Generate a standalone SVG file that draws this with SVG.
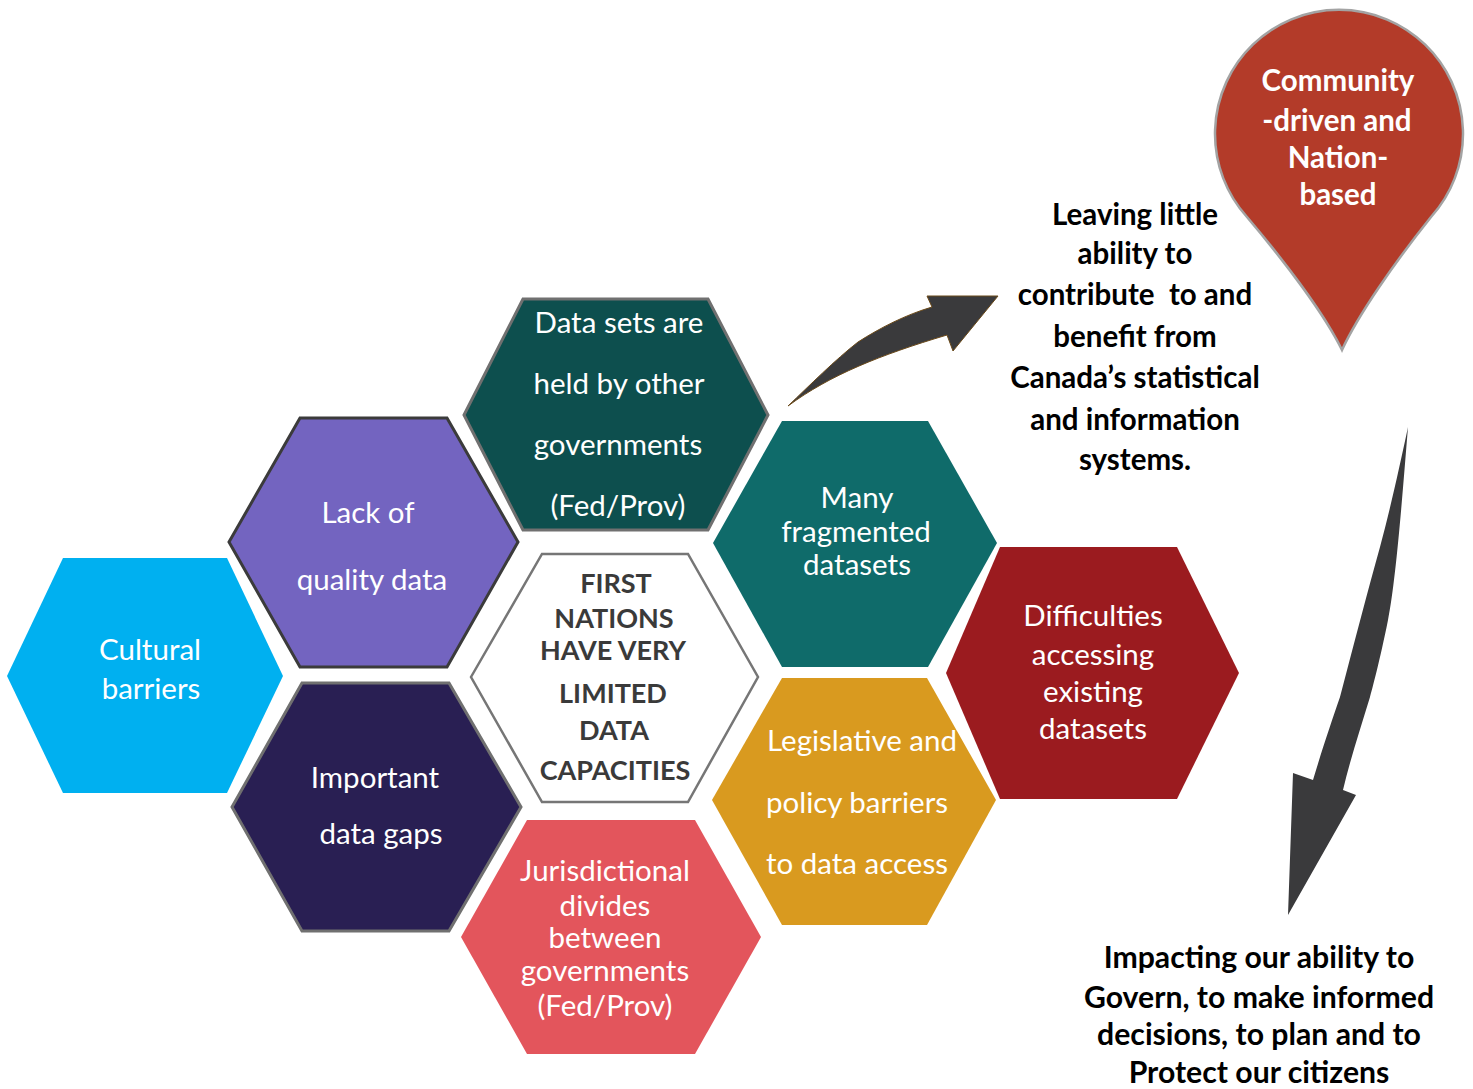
<svg xmlns="http://www.w3.org/2000/svg" width="1473" height="1089" viewBox="0 0 1473 1089">
  <style>
    .lbl { font-family: Lato, "Open Sans", "Liberation Sans", sans-serif; font-size: 29.5px; fill: #ffffff; text-anchor: middle; }
    .core { font-family: Lato, "Open Sans", "Liberation Sans", sans-serif; font-size: 27px; font-weight: bold; fill: #3a3a3a; text-anchor: middle; }
    .note { font-family: Lato, "Open Sans", "Liberation Sans", sans-serif; font-size: 29.5px; font-weight: bold; fill: #000000; text-anchor: middle; white-space: pre; }
    .note-lg { font-size: 30.2px; }
    .pin { font-family: Lato, "Open Sans", "Liberation Sans", sans-serif; font-size: 29.5px; font-weight: bold; fill: #ffffff; text-anchor: middle; }
    .arrow { fill: #3a3a3c; }
  </style>

  <rect width="1473" height="1089" fill="#ffffff"/>

  <!-- hexagon cells -->
  <g id="cultural-barriers">
    <polygon points="7,676 63,558 227,558 283,676 227,793 63,793" fill="#00B0F0"/>
    <text class="lbl" x="150" y="660">Cultural</text>
    <text class="lbl" x="151" y="699">barriers</text>
  </g>

  <g id="lack-of-quality-data">
    <polygon points="229,542 300,418 447,418 518,542 447,667 300,667" fill="#7364C0" stroke="#3b3b3b" stroke-width="3"/>
    <text class="lbl" x="368" y="523">Lack of</text>
    <text class="lbl" x="372" y="590">quality data</text>
  </g>

  <g id="data-held-by-others">
    <polygon points="464,415 523,299 708,299 768,415 708,530 523,530" fill="#0D4F4E" stroke="#707070" stroke-width="3"/>
    <text class="lbl" x="619" y="333">Data sets are</text>
    <text class="lbl" x="619" y="394">held by other</text>
    <text class="lbl" x="618" y="455">governments</text>
    <text class="lbl" x="618" y="516">(Fed/Prov)</text>
  </g>

  <g id="fragmented-datasets">
    <polygon points="713,543 782,421 928,421 997,543 928,667 782,667" fill="#0F6B6A"/>
    <text class="lbl" x="857" y="508">Many</text>
    <text class="lbl" x="856" y="542">fragmented</text>
    <text class="lbl" x="857" y="575">datasets</text>
  </g>

  <g id="access-difficulties">
    <polygon points="946,673 1000,547 1177,547 1239,673 1177,799 1000,799" fill="#9B1B1F"/>
    <text class="lbl" x="1093" y="626">Difficulties</text>
    <text class="lbl" x="1093" y="665">accessing</text>
    <text class="lbl" x="1093" y="702">existing</text>
    <text class="lbl" x="1093" y="739">datasets</text>
  </g>

  <g id="legislative-barriers">
    <polygon points="712,800 782,678 927,678 996,800 927,925 782,925" fill="#D99A1F"/>
    <text class="lbl" x="862" y="751">Legislative and</text>
    <text class="lbl" x="857" y="813">policy barriers</text>
    <text class="lbl" x="857" y="874">to data access</text>
  </g>

  <g id="jurisdictional-divides">
    <polygon points="461,937 527,820 695,820 761,937 695,1054 527,1054" fill="#E3555C"/>
    <text class="lbl" x="605" y="881">Jurisdictional</text>
    <text class="lbl" x="605" y="916">divides</text>
    <text class="lbl" x="605" y="948">between</text>
    <text class="lbl" x="605" y="981">governments</text>
    <text class="lbl" x="605" y="1016">(Fed/Prov)</text>
  </g>

  <g id="data-gaps">
    <polygon points="232,807 302,683 449,683 521,807 449,931 302,931" fill="#291F53" stroke="#707070" stroke-width="3"/>
    <text class="lbl" x="375" y="788">Important</text>
    <text class="lbl" x="381" y="844">data gaps</text>
  </g>

  <g id="core">
    <polygon points="471,677 542,554 688,554 758,677 688,802 542,802" fill="#ffffff" stroke="#767676" stroke-width="2.5"/>
    <text class="core" x="616" y="593">FIRST</text>
    <text class="core" x="614" y="628">NATIONS</text>
    <text class="core" x="613" y="660">HAVE VERY</text>
    <text class="core" x="613" y="703">LIMITED</text>
    <text class="core" x="614" y="740">DATA</text>
    <text class="core" x="615" y="780">CAPACITIES</text>
  </g>

  <!-- location pin -->
  <g id="pin">
    <path d="M1342,350 C1325,315 1285,262 1247,217 A124,124 0 1 1 1431,217 C1395,262 1358,315 1342,350 Z" fill="#B33B29" stroke="#A3A3A3" stroke-width="2.5"/>
    <text class="pin" x="1338" y="91">Community</text>
    <text class="pin" x="1337" y="131">-driven and</text>
    <text class="pin" x="1338" y="168">Nation-</text>
    <text class="pin" x="1338" y="205">based</text>
  </g>

  <g id="outcome-upper">
    <text class="note" x="1135" y="225">Leaving little</text>
    <text class="note" x="1135" y="264">ability to</text>
    <text class="note" x="1135" y="305">contribute  to and</text>
    <text class="note" x="1135" y="347">benefit from</text>
    <text class="note" x="1135" y="388">Canada’s statistical</text>
    <text class="note" x="1135" y="430">and information</text>
    <text class="note" x="1135" y="470">systems.</text>
  </g>

  <g id="outcome-lower">
    <text class="note note-lg" x="1259" y="968">Impacting our ability to</text>
    <text class="note note-lg" x="1259" y="1008">Govern, to make informed</text>
    <text class="note note-lg" x="1259" y="1045">decisions, to plan and to</text>
    <text class="note note-lg" x="1259" y="1083">Protect our citizens</text>
  </g>

  <!-- connectors -->
  <g id="connectors">
    <path class="arrow" d="M788,406 C830,375 880,355 947,335 L953,351 L998,296 L927,296 L932,307 C905,315 880,328 858,342 C835,360 810,385 788,406 Z" stroke="#6b4a1a" stroke-width="1"/>
    <path class="arrow" d="M1408,427 C1402,500 1396,580 1388,620 C1380,660 1372,690 1370,697 C1360,730 1350,760 1343,790 L1356,795 L1288,915 L1293,773 L1313,780 C1322,750 1332,720 1340,697 C1355,640 1368,590 1380,547 C1390,510 1400,465 1408,427 Z"/>
  </g>
</svg>
